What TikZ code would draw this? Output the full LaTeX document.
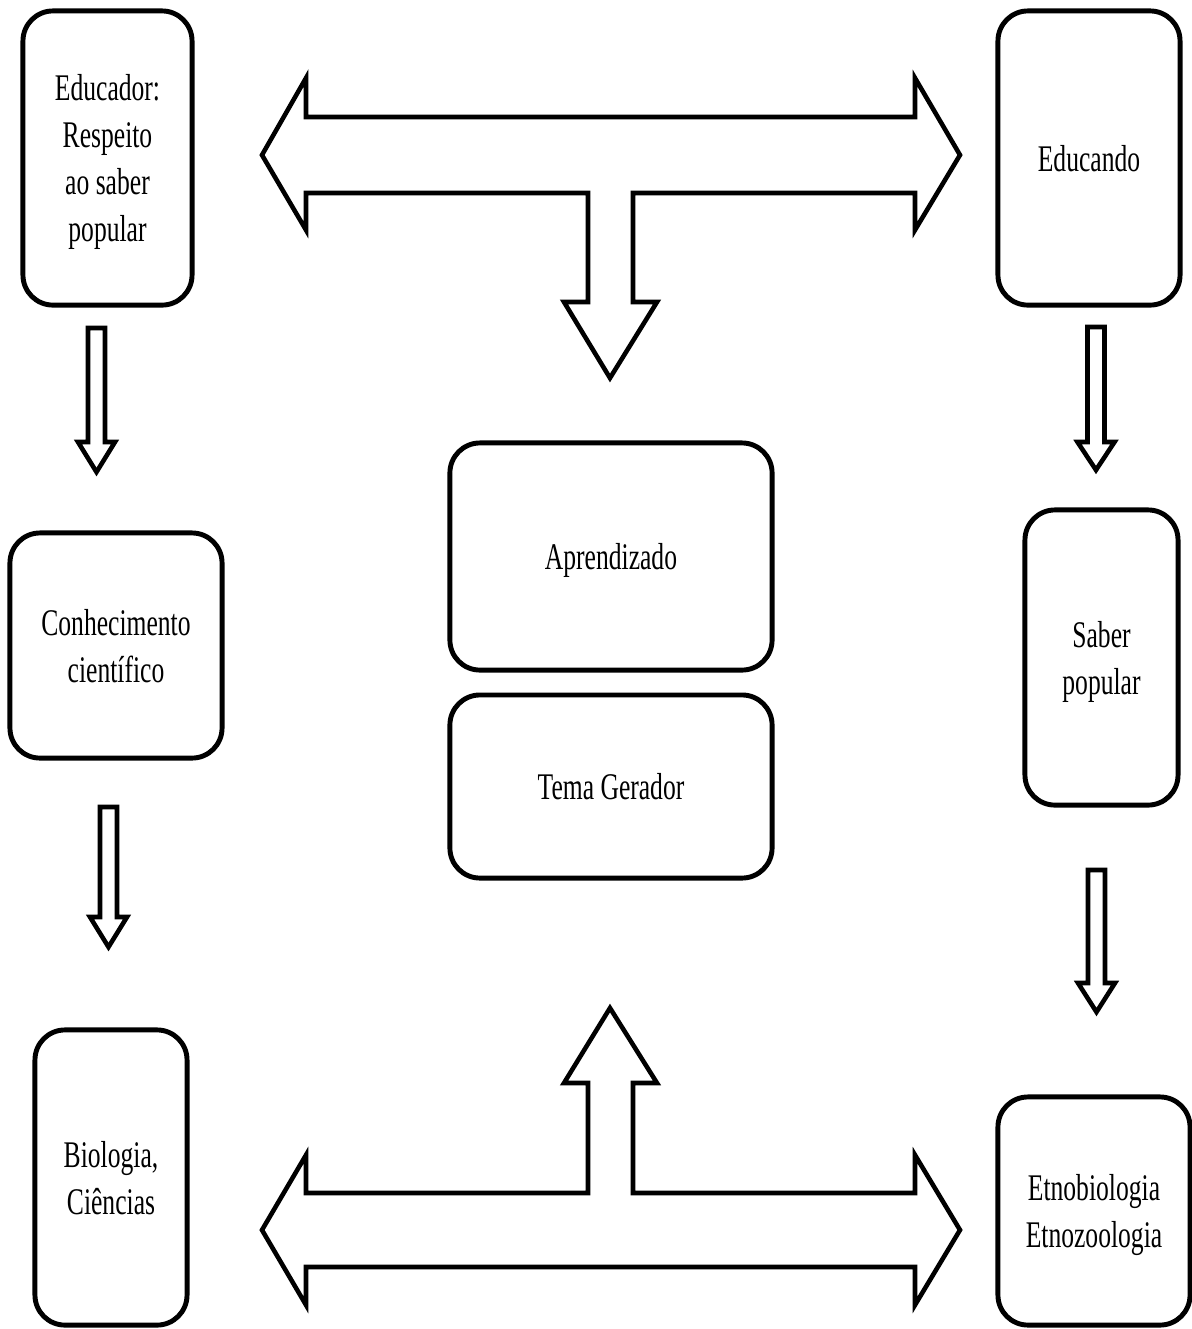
\documentclass[tikz,border=0pt]{standalone}
\usepackage{fontspec}
\setmainfont[FakeStretch=0.68]{Liberation Serif}
\usepackage{tikz}
\usetikzlibrary{positioning}
\tikzset{
  box/.style  ={draw, rounded corners=3mm, line width=1.4pt, align=center,
                inner sep=0pt, text depth=0pt, font=\fontsize{10.7}{13.4}\selectfont},
  block/.style={draw, line width=1.3pt, line join=miter, fill=white},
}

\begin{document}
\begin{tikzpicture}[x=0.01cm, y=-0.01cm]
  \useasboundingbox (0,0) rectangle (1192,1329);
  % left column
  \node[box, minimum width=1.69cm, minimum height=2.94cm] (edu)  at (107.5,158)   {Educador:\\Respeito\\ao saber\\popular};
  \node[box, minimum width=2.12cm, minimum height=2.25cm] (conh) at (116,645.5)   {Conhecimento\\científico};
  \node[box, minimum width=1.52cm, minimum height=2.95cm] (bio)  at (111,1177.5)  {Biologia,\\Ciências};
  % right column
  \node[box, minimum width=1.82cm, minimum height=2.94cm] (educ) at (1089,158)    {Educando};
  \node[box, minimum width=1.53cm, minimum height=2.95cm] (sab)  at (1101.5,657.5){Saber\\popular};
  \node[box, minimum width=1.92cm, minimum height=2.28cm] (etno) at (1094,1211)   {Etnobiologia\\Etnozoologia};
  % centre
  \node[box, minimum width=3.22cm, minimum height=2.27cm] (apr)  at (611,556.5)   {Aprendizado};
  \node[box, minimum width=3.22cm, minimum height=1.83cm] (tema) at (611,786.5)   {Tema Gerador};
  % top T arrow
  \draw[block] (262,155) -- (306,78) -- (306,117) -- (915,117) -- (915,78) -- (960,155)
    -- (915,230) -- (915,193) -- (633,193) -- (633,302) -- (657,302) -- (610,378)
    -- (564,302) -- (588,302) -- (588,193) -- (306,193) -- (306,230) -- cycle;
  % bottom T arrow
  \draw[block] (262,1230) -- (306,1155) -- (306,1193) -- (588,1193) -- (588,1083)
    -- (564,1083) -- (610,1008) -- (657,1083) -- (633,1083) -- (633,1193) -- (915,1193)
    -- (915,1155) -- (960,1230) -- (915,1305) -- (915,1267) -- (306,1267) -- (306,1305) -- cycle;
  % small down arrows
  \foreach \cx/\ytop/\ybarb/\ytip in {96.5/328/442/472, 108.5/807/917/947,
                                      1096/327/442/470, 1096.5/870/983/1012}
    \draw[block] (\cx-8.5,\ytop) -- (\cx+8.5,\ytop) -- (\cx+8.5,\ybarb) -- (\cx+18.5,\ybarb)
      -- (\cx,\ytip) -- (\cx-18.5,\ybarb) -- (\cx-8.5,\ybarb) -- cycle;
\end{tikzpicture}
\end{document}
